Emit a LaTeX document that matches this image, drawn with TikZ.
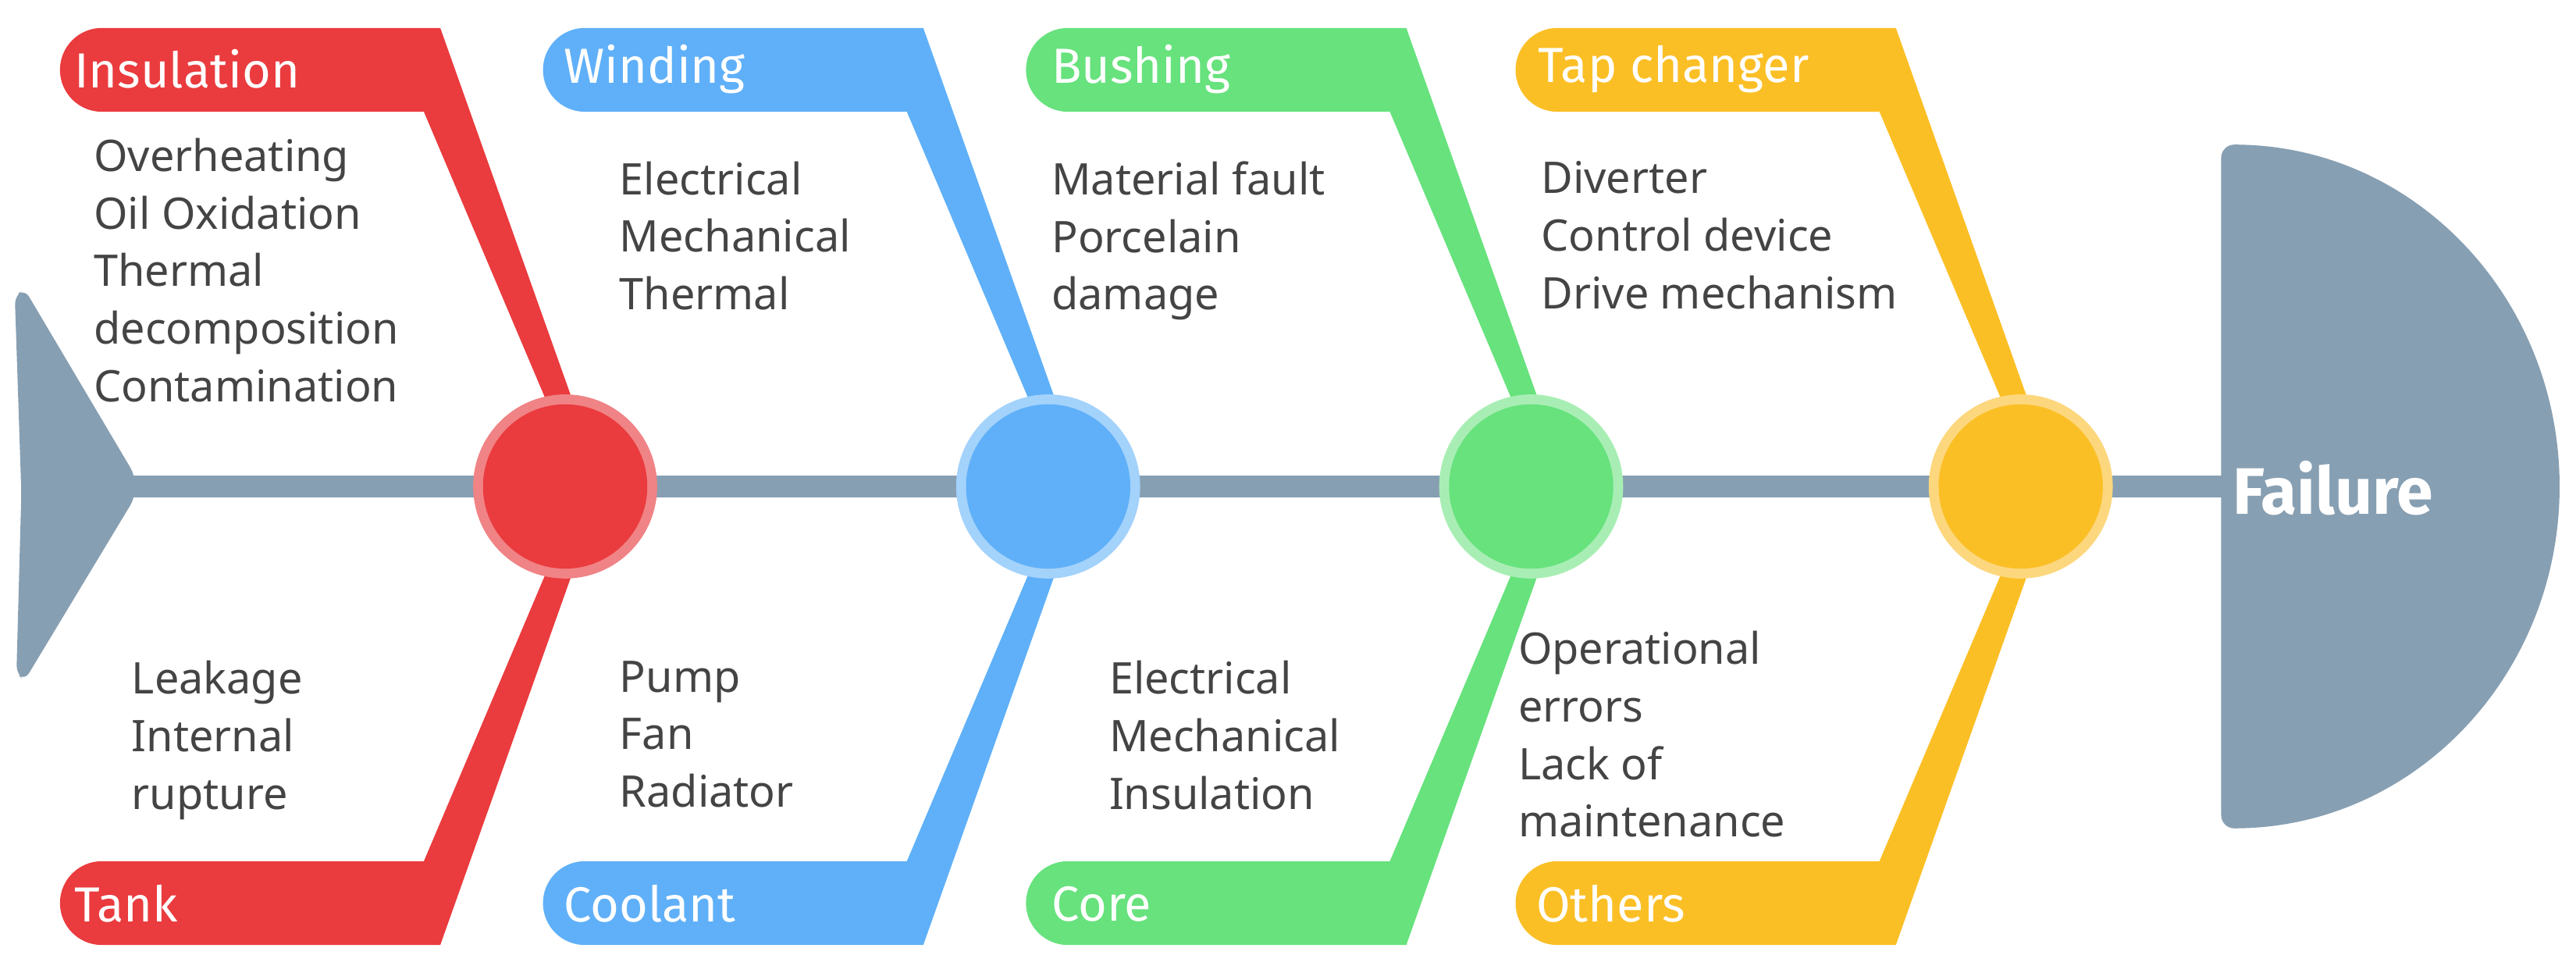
\documentclass[tikz,border=0pt]{standalone}
\usepackage{fontspec}
\setmainfont{Noto Sans}
\newfontfamily\labfont{Fira Sans}
\definecolor{gr}{HTML}{879FB2}
\definecolor{txt}{HTML}{444444}
\definecolor{cR}{HTML}{EA3B3E}\definecolor{lR}{HTML}{F08385}
\definecolor{cB}{HTML}{5FB0F8}\definecolor{lB}{HTML}{A3D2FB}
\definecolor{cG}{HTML}{67E27D}\definecolor{lG}{HTML}{A8EEB4}
\definecolor{cY}{HTML}{FBBF26}\definecolor{lY}{HTML}{FCD77D}
\tikzset{
 lab/.style={anchor=west,text=white,font=\labfont\fontsize{30}{30}\selectfont,inner sep=0},
 body/.style={anchor=north west,text=txt,font=\fontsize{26.5}{35}\selectfont,align=left,inner sep=0},
}
\begin{document}
\begin{tikzpicture}[x=1pt,y=-1pt]
\useasboundingbox (0,0) rectangle (1568,592);
% tail
\fill[gr,rounded corners=5] (9,180) -- (15,176) -- (82,289) -- (82,303) -- (15,414) -- (10,410) -- (13,300) -- cycle;
% head
\fill[gr,rounded corners=8] (1362,504) -- (1352,504) -- (1352,88) -- (1362,88);
\fill[gr] (1360,88) arc(-90:90:198 and 208) -- cycle;
\node[font=\labfont\bfseries\fontsize{40}{40}\selectfont,text=white,anchor=west,inner sep=0] (fail) at (1359,297) {Failure};
\coordinate (tailc) at (80,296);
\coordinate (headc) at (1353,296);
\draw[gr,line width=13] (tailc) -- (headc);
% branches
\foreach \cx/\c in {344/R,638/B,932/G,1230/Y}{
 \fill[c\c] (\cx-282,17) -- (\cx-76,17) -- (\cx+5,245) -- (\cx-11,245) -- (\cx-86,68) -- (\cx-282,68) arc(90:270:25.5) -- cycle;
 \fill[c\c] (\cx-282,575) -- (\cx-76,575) -- (\cx+5,347) -- (\cx-11,347) -- (\cx-86,524) -- (\cx-282,524) arc(-90:-270:25.5) -- cycle;
 \fill[l\c] (\cx,296) circle (56);
 \fill[c\c] (\cx,296) circle (50);
}
\node (n1) at (344,296) {};\node (n2) at (638,296) {};\node (n3) at (932,296) {};\node (n4) at (1230,296) {};
% labels
\node[lab] (insl) at (45,42) {Insulation};
\node[lab] (wind) at (343,42) {Winding};
\node[lab] (bush) at (640,42) {Bushing};
\node[lab] (tapc) at (936,42) {Tap changer};
\node[lab] (tank) at (45,550) {Tank};
\node[lab] (cool) at (343,550) {Coolant};
\node[lab] (core) at (640,550) {Core};
\node[lab] (othr) at (935,550) {Others};
% bodies
\node[body] (b1) at (57,84) {Overheating\\Oil Oxidation\\Thermal\\decomposition\\Contamination};
\node[body] (b2) at (377,98) {Electrical\\Mechanical\\Thermal};
\node[body] (b3) at (640,98) {Material fault\\Porcelain\\damage};
\node[body] (b4) at (938,98) {Diverter\\Control device\\Drive mechanism};
\node[body] (b5) at (80,402) {Leakage\\Internal\\rupture};
\node[body] (b6) at (377,402) {Pump\\Fan\\Radiator};
\node[body] (b7) at (675,402) {Electrical\\Mechanical\\Insulation};
\node[body] (b8) at (924,384) {Operational\\errors\\Lack of\\maintenance};
\end{tikzpicture}
\end{document}
